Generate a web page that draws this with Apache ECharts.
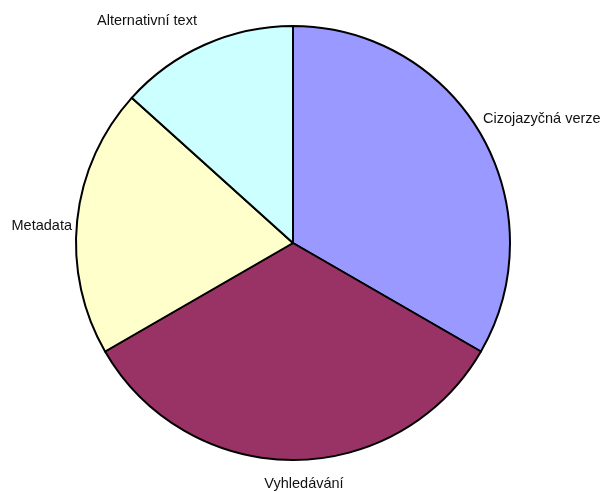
<!DOCTYPE html>
<html>
<head>
<meta charset="utf-8">
<script src="https://cdn.jsdelivr.net/npm/echarts@6/dist/echarts.min.js"></script>
<style>
  html, body { margin: 0; padding: 0; background: #fff; }
  #chart { width: 603px; height: 492px; }
</style>
</head>
<body>
<div id="chart"></div>
<script>
const categories = ['Cizojazyčná verze', 'Vyhledávání', 'Metadata', 'Alternativní text'];
const values = [5, 5, 3, 2];
const sliceColors = ['#9999FF', '#993366', '#FFFFCC', '#CCFFFF'];

// Excel-style label spots
const labelSpots = [
    { x: 483, y: 119, align: 'left' },
    { x: 304, y: 484, align: 'center' },
    { x: 72, y: 226, align: 'right' },
    { x: 147, y: 21, align: 'center' }
];

const chart = echarts.init(document.getElementById('chart'));
chart.setOption({
    animation: false,
    backgroundColor: '#fff',
    series: [{
        type: 'pie',
        center: [293, 243],
        radius: 217,
        startAngle: 90,
        clockwise: true,
        data: categories.map((name, i) => ({
            name,
            value: values[i],
            itemStyle: { color: sliceColors[i] }
        })),
        itemStyle: { borderColor: '#000', borderWidth: 2 },
        label: {
            show: true,
            position: 'outside',
            formatter: '{b}',
            overflow: 'none',
            fontFamily: 'Liberation Sans, Arial, sans-serif',
            fontSize: 14.5,
            color: '#111'
        },
        labelLine: { show: false },
        labelLayout: params => {
            const s = labelSpots[params.dataIndex];
            return { x: s.x, y: s.y, align: s.align, verticalAlign: 'middle' };
        },
        emphasis: { disabled: true }
    }]
});
</script>
</body>
</html>
